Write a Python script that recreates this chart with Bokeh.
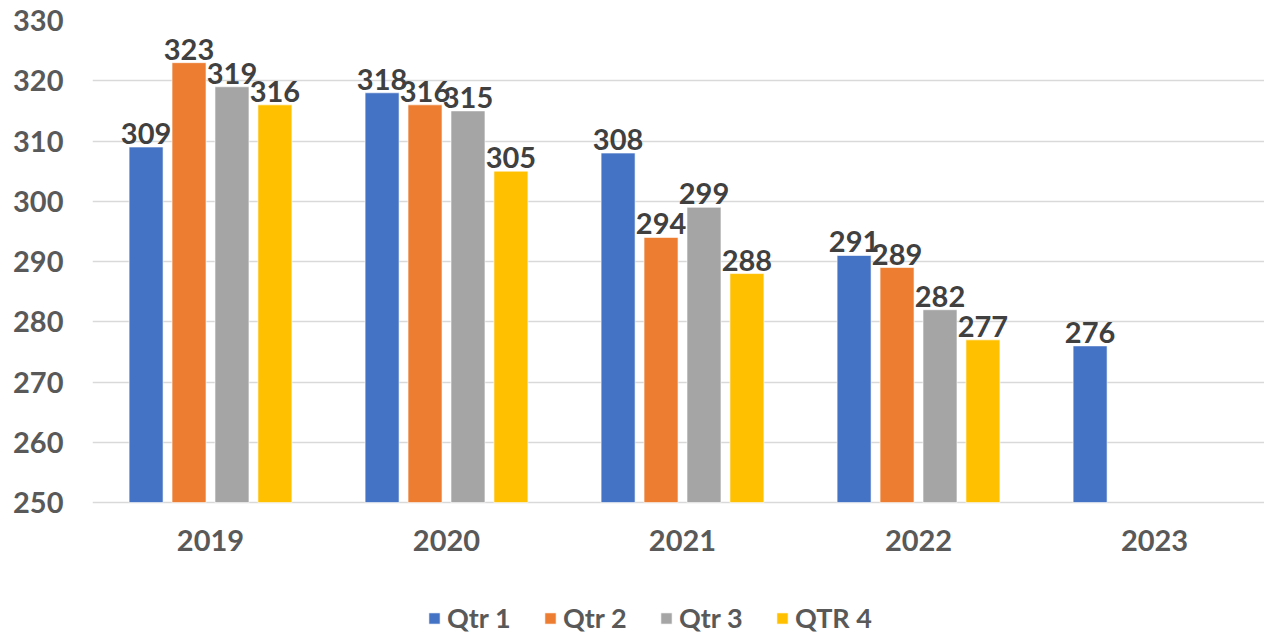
from bokeh.plotting import figure
from bokeh.models import ColumnDataSource, Range1d, FixedTicker, Legend, LegendItem
from bokeh.core.properties import value
from bokeh.embed import file_html
from bokeh.resources import INLINE

years = ["2019", "2020", "2021", "2022", "2023"]
series_names = ["Qtr 1", "Qtr 2", "Qtr 3", "QTR 4"]
qtr1 = [309, 318, 308, 291, 276]
qtr2 = [323, 316, 294, 289, None]
qtr3 = [319, 315, 299, 282, None]
qtr4 = [316, 305, 288, 277, None]
colors = ["#4472C4", "#ED7D31", "#A5A5A5", "#FFC000"]
y_ticks = [250, 260, 270, 280, 290, 300, 310, 320, 330]
y_base = 250

FONT = "Lato"
offsets = [-0.273, -0.091, 0.091, 0.273]
bar_w = 0.144

# frame spans full height below the top; the extra space under the 250 baseline
# holds the category labels and legend
p = figure(width=1264, height=634, output_backend="svg", toolbar_location=None,
           x_range=Range1d(0, 4.966), y_range=Range1d(228.1, 330),
           x_axis_location=None,
           min_border_left=92, min_border_right=0, min_border_top=20, min_border_bottom=0)
p.outline_line_color = None
p.background_fill_color = "white"
p.border_fill_color = "white"
p.xgrid.grid_line_color = None
p.ygrid.grid_line_color = "#D9D9D9"
p.ygrid.grid_line_width = 1.5
p.yaxis.ticker = FixedTicker(ticks=y_ticks)
ax = p.yaxis[0]
ax.axis_line_color = None
ax.major_tick_line_color = None
ax.minor_tick_line_color = None
ax.major_tick_in = 0
ax.major_tick_out = 0
ax.major_label_text_font = FONT
ax.major_label_text_font_style = "bold"
ax.major_label_text_font_size = "29px"
ax.major_label_text_color = "#595959"
ax.major_label_standoff = 29

# category labels
cat_src = ColumnDataSource(dict(x=[i + 0.5 for i in range(len(years))],
                                y=[y_base] * len(years), label=years))
p.text(x="x", y="y", text="label", source=cat_src, text_align="center",
       text_baseline="top", y_offset=27, text_font=value(FONT),
       text_font_style="bold", text_font_size="29px", text_color="#595959")

items = []
for i, (name, vals) in enumerate(zip(series_names, [qtr1, qtr2, qtr3, qtr4])):
    xs, ys, labels = [], [], []
    for j, v in enumerate(vals):
        if v is None:
            continue
        xs.append(j + 0.5 + offsets[i])
        ys.append(v)
        labels.append(str(v))
    src = ColumnDataSource(dict(x=xs, top=ys, label=labels))
    r = p.vbar(x="x", top="top", bottom=y_base, width=bar_w, source=src,
               fill_color=colors[i], line_color="#FFFFFF", line_alpha=0.6, line_width=1)
    p.text(x="x", y="top", text="label", source=src, text_align="center",
           text_baseline="bottom", y_offset=-3, text_font=value(FONT),
           text_font_style="bold", text_font_size="29px", text_color="#404040")
    items.append(LegendItem(label=name, renderers=[r]))

legend = Legend(items=items, orientation="horizontal", location=(335, 0),
                glyph_width=14, glyph_height=14, label_standoff=6,
                label_width=90, spacing=6,
                padding=0, margin=0, border_line_color=None, background_fill_alpha=0,
                label_text_font=FONT, label_text_font_style="bold",
                label_text_font_size="27px", label_text_color="#595959")
p.add_layout(legend, "center")

open("out.html", "w").write(file_html(p, INLINE))
